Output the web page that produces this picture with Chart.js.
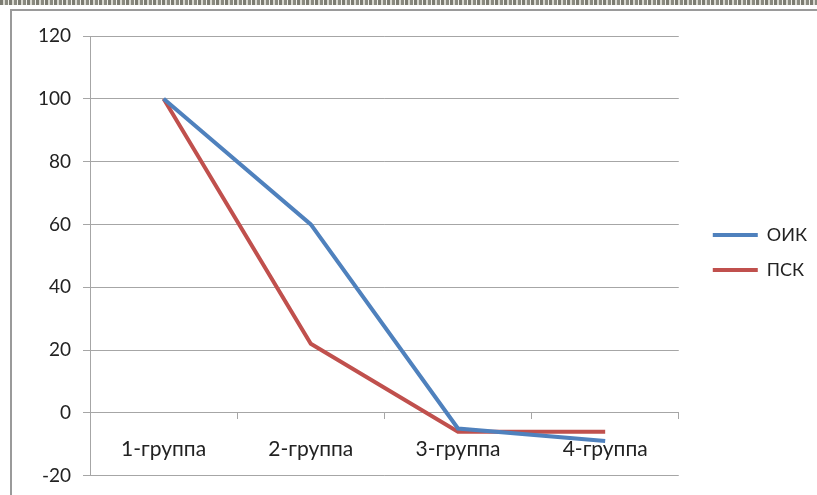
<!DOCTYPE html>
<html>
<head>
<meta charset="utf-8">
<script src="https://cdn.jsdelivr.net/npm/chart.js@4"></script>
<style>
  html, body { margin: 0; padding: 0; background: #fff; }
  body { width: 817px; height: 495px; position: relative; overflow: hidden; }
  .band {
    position: absolute; left: 0; top: 0; width: 817px; height: 5px;
    background: repeating-linear-gradient(90deg, #7c7c72 0 3px, #d8d8d0 3px 5px, #8a8a80 5px 8px, #f0f0ea 8px 9px);
  }
  .frame {
    position: absolute; left: 10px; top: 9px; width: 900px; height: 600px;
    border-left: 2px solid #9a9a9a; border-top: 2px solid #9a9a9a;
  }
  #wrap { position: absolute; left: 0; top: 0; width: 817px; height: 499px; }
</style>
</head>
<body>
<div class="band"></div>
<div class="frame"></div>
<div id="wrap"><canvas id="chart"></canvas></div>
<script>
const groups = ["1-группа", "2-группа", "3-группа", "4-группа"];
const oikValues = [100, 60, -5, -9];
const pskValues = [100, 22, -6, -6];
const yTicks = [-20, 0, 20, 40, 60, 80, 100, 120];

const gridGray = "#a6a6a6";
const textColor = "#222";

// nudge the legend right and up, like the original
const legendShift = {
  id: "legendShift",
  afterLayout(chart) {
    const lg = chart.legend;
    if (!lg) return;
    lg.left += 17;
    lg.right += 17;
    lg.top -= 12;
    lg.bottom -= 12;
  }
};

const ctx = document.getElementById("chart").getContext("2d");
const chart = new Chart(ctx, {
  type: "line",
  data: {
    labels: groups,
    datasets: [
      {
        label: "ОИК",
        data: oikValues,
        borderColor: "#4f81bd",
        backgroundColor: "#4f81bd",
        borderWidth: 4,
        pointRadius: 0,
        tension: 0
      },
      {
        label: "ПСК",
        data: pskValues,
        borderColor: "#c0504d",
        backgroundColor: "#c0504d",
        borderWidth: 4,
        pointRadius: 0,
        tension: 0
      }
    ]
  },
  plugins: [legendShift],
  options: {
    responsive: true,
    maintainAspectRatio: false,
    animation: false,
    layout: { padding: { left: 20, top: 36, right: 17, bottom: 6 } },
    plugins: {
      tooltip: { enabled: false },
      legend: {
        position: "right",
        labels: {
          usePointStyle: true,
          pointStyle: "line",
          pointStyleWidth: 45,
          padding: 17,
          color: textColor,
          font: { family: "Lato", size: 18 }
        }
      }
    },
    scales: {
      x: {
        position: { y: 0 },
        offset: true,
        grid: {
          offset: true,
          drawOnChartArea: false,
          drawTicks: true,
          tickLength: 6,
          color: gridGray
        },
        border: { display: true, color: gridGray },
        ticks: {
          color: textColor,
          padding: 18,
          font: { family: "Lato", size: 21 }
        }
      },
      y: {
        min: Math.min(...yTicks),
        max: Math.max(...yTicks),
        afterFit: (scale) => { scale.width = 70; },
        afterBuildTicks: (scale) => { scale.ticks = yTicks.map(v => ({ value: v })); },
        grid: { color: gridGray, tickLength: 7 },
        border: { display: true, color: gridGray },
        ticks: {
          color: textColor,
          padding: 12,
          font: { family: "Lato", size: 19 }
        }
      }
    }
  }
});
</script>
</body>
</html>
